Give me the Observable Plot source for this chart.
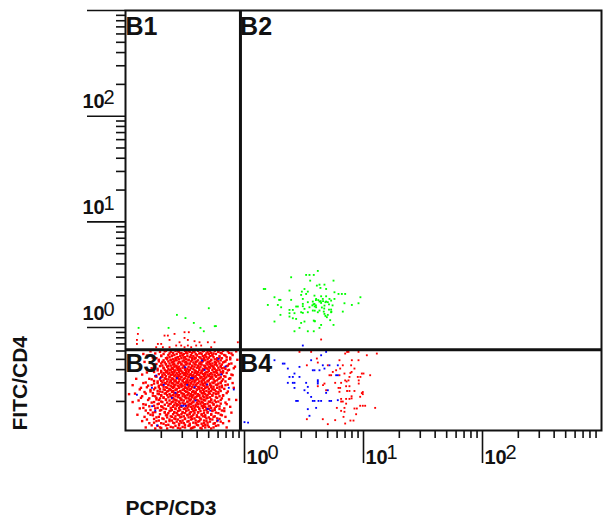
<!DOCTYPE html>
<html><head><meta charset="utf-8">
<script src="https://cdn.jsdelivr.net/npm/d3@7"></script>
<script src="https://cdn.jsdelivr.net/npm/@observablehq/plot@0.6"></script>
<style>html,body{margin:0;padding:0;background:#fff}svg{display:block}</style>
</head><body><div id="chart"></div>
<script>
// All scatter values are log10 of the fluorescence.
const greenX=[.616,.518,.546,.582,.392,.552,.748,.63,.672,.608,.638,.686,.174,.162,.378,.504,.482,.532,.756,.518,.476,.79,.818,.846,.974,.252,.588,.644,.686,.49,.602,.658,.714,.392,.302,.291,.532,.574,.63,.686,.728,.756,.49,.588,.644,.84,.958,.196,.28,.902,.308,.448,.434,.49,.546,.602,.672,.504,.574,.63,.728,.378,.406,.666,.728,.532,.476,.42,.378,.302,.49,.616,.672,.826,.692,.378,.406,.434,.582,.504,.252,.476,.644,.748,.462,.63,.42,.532,.582,.6,.62,.64,.66,.68,.7,.58,.6,.59,.71,.74,.59,.65,.67,.71,.73,.59,.72,.7,.68,.57,.59,-.89,-.638,-.568,-.496,-.426,-.37,-.342,-.3,-.25,-.24];
const greenY=[.536,.498,.498,.498,.476,.444,.444,.406,.406,.397,.375,.365,.365,.365,.35,.365,.34,.34,.334,.318,.309,.318,.318,.318,.287,.287,.302,.296,.296,.271,.271,.271,.271,.262,.262,.262,.24,.246,.246,.246,.255,.271,.224,.224,.233,.23,.23,.214,.214,.214,.192,.199,.199,.202,.192,.192,.208,.177,.161,.161,.17,.167,.167,.151,.145,.145,.145,.136,.136,.12,.139,.145,.129,.151,.098,.104,.088,.082,.066,.057,.057,.044,.025,.025,-.003,-.003,-.035,-.035,-.035,.26,.26,.25,.25,.24,.24,.22,.21,.2,.22,.21,.16,.19,.18,.17,.15,.06,.07,.12,.11,.21,.06,-.003,-.003,.12,.09,.044,-.003,-.035,.183,.013,.013];

const blueX=[-.742,-.708,-.778,-.904,-.678,-.568,-.498,-.45,-.435,-.482,-.42,-.314,-.58,-.61,-.412,-.53,-.515,-.495,-.776,-.75,-.734,-.31,-.288,-.224,0,-.356,-.218,-.16,-.336,-.196,-.132,-.09,
.686,.644,.56,.252,.322,.336,.462,.658,.714,.784,.364,.672,.574,.588,.63,.42,.378,.406,.462,.77,.784,.616,.616,.616,.364,.406,.42,.518,.42,.532,.504,.7,.686,.532,.56,.434,.448,.574,.588,.622,.644,.714,.728,.784,.602,.532,.546,.03,.49];
const blueY=[-.454,-.476,-.57,-.636,-.542,-.479,-.375,-.479,-.479,-.542,-.564,-.539,-.617,-.665,-.69,-.74,-.74,-.74,-.744,-.785,-.926,-.77,-.785,-.879,-.895,-.312,-.296,-.369,-.4,-.444,-.57,-.586,
-.23,-.262,-.309,-.309,-.341,-.341,-.372,-.357,-.357,-.357,-.388,-.388,-.404,-.404,-.404,-.435,-.467,-.467,-.467,-.451,-.451,-.498,-.514,-.53,-.523,-.523,-.523,-.523,-.571,-.561,-.593,-.593,-.618,-.618,-.656,-.694,-.694,-.694,-.694,-.694,-.694,-.694,-.694,-.687,-.76,-.772,-.835,-.9,-.17];

const redUpperX=[.462,.56,.846,.862,.874,.958,1.028,1.112,.608,.616,.798,.902,.958,.524,.7,.826,.896,.924,.804,.77,.742,.9,.89,.986,1,.84,.714,.728,1.056,.798,.882,.952,.974,.846,.874,.858,.96,.96,.762,.812,.672,.66,.616,.854,.882,.79,.804,.686,.862,.882,.924,.994,.994,.986,.9,.9,.798,.812,.854,.882,.972,.812,.826,.776,.854,.84,.924,.944,.972,.994,1.014,1.098,.812,.84,.938,.832,.524,.658,.762,.7,.846,.89,.916,.644,
-.896,-.904,-.904,-.854,-.672,-.644,-.588,-.504,-.468,-.63,-.504,-.476,-.42,-.378,-.308,-.252,-.728,-.7,-.546,-.574,-.532,-.476,-.406,-.364,-.28,-.056,-.742,-.686,-.63,-.504,-.448];
const redUpperY=[-.23,-.23,-.246,-.23,-.23,-.23,-.262,-.246,-.293,-.331,-.309,-.309,-.309,-.357,-.357,-.357,-.357,-.388,-.388,-.404,-.42,-.42,-.43,-.435,-.435,-.435,-.451,-.451,-.451,-.451,-.467,-.467,-.467,-.5,-.5,-.51,-.5,-.53,-.523,-.523,-.53,-.545,-.555,-.555,-.555,-.571,-.571,-.593,-.6,-.6,-.6,-.61,-.63,-.62,-.65,-.67,-.608,-.675,-.675,-.675,-.655,-.7,-.7,-.76,-.72,-.76,-.766,-.766,-.74,-.74,-.74,-.76,-.788,-.797,-.82,-.845,-.867,-.867,-.876,-.914,-.908,-.88,-.88,-.113,
-.06,-.117,-.155,-.123,-.076,-.076,-.06,-.044,-.044,-.117,-.098,-.117,-.129,-.139,-.139,-.139,-.155,-.155,-.139,-.17,-.17,-.17,-.17,-.17,-.186,-.139,-.186,-.186,-.186,-.186,-.186];

// The dense B3 population, listed row by row: one log10 y and the log10 x values read along it.
const redRowY=[-.22,-.23,-.24,-.25,-.26,-.27,-.28,-.29,-.30,-.31,-.32,-.33,-.34,-.35,-.36,-.37,-.38,-.39,-.40,-.41,-.42,-.43,-.44,-.45,-.46,-.47,-.48,-.49,-.50,-.51,-.52,-.53,-.54,-.55,-.56,-.57,-.58,-.59,-.60,-.61,-.62,-.63,-.64,-.65,-.66,-.67,-.68,-.69,-.70,-.71,-.72,-.73,-.74,-.75,-.76,-.77,-.78,-.79,-.80,-.81,-.82,-.83,-.84,-.85,-.86,-.87,-.88,-.89,-.90,-.91,-.92,-.93,-.94,-.95];
const redRowX=[
[-.66,-.58,-.5,-.47,-.39,-.34,-.25,-.18],
[-.71,-.62,-.55,-.46,-.42,-.31,-.22],
[-.6,-.53,-.49,-.44,-.37,-.28,-.2,-.13],
[-.85,-.68,-.57,-.51,-.41,-.36,-.3,-.24],
[-.64,-.59,-.52,-.45,-.4,-.33,-.27,-.17,-.1],
[-.7,-.61,-.54,-.48,-.43,-.35,-.29,-.21],
[-.63,-.56,-.5,-.46,-.38,-.32,-.26,-.15],
[-.74,-.66,-.58,-.53,-.44,-.41,-.34,-.23,-.19],
[-.65,-.6,-.55,-.49,-.42,-.36,-.31,-.25,-.12],
[-.68,-.62,-.57,-.51,-.47,-.39,-.33,-.28,-.2],
[-.72,-.64,-.59,-.52,-.45,-.4,-.35,-.29,-.22,-.16],
[-.67,-.61,-.54,-.5,-.43,-.37,-.3,-.24,-.18],
[-.7,-.63,-.56,-.48,-.46,-.38,-.32,-.27,-.21,-.11],
[-.66,-.6,-.53,-.49,-.41,-.36,-.31,-.25,-.19],
[-.69,-.62,-.58,-.51,-.44,-.39,-.34,-.28,-.23,-.14],
[-.65,-.59,-.55,-.47,-.42,-.37,-.3,-.26,-.2,-.08],
[-.68,-.61,-.57,-.52,-.45,-.4,-.33,-.29,-.22,-.17],
[-.73,-.64,-.6,-.54,-.48,-.43,-.35,-.31,-.25,-.16],
[-.67,-.62,-.56,-.5,-.46,-.38,-.34,-.27,-.21,-.13],
[-.7,-.65,-.59,-.53,-.49,-.41,-.36,-.3,-.24,-.18],
[-.76,-.66,-.61,-.55,-.47,-.44,-.39,-.32,-.26,-.2],
[-.68,-.63,-.57,-.52,-.5,-.42,-.37,-.33,-.28,-.23,-.15],
[-.72,-.64,-.6,-.54,-.48,-.45,-.4,-.35,-.29,-.19],
[-.69,-.62,-.58,-.51,-.46,-.43,-.38,-.31,-.25,-.22,-.1],
[-.75,-.66,-.59,-.55,-.49,-.44,-.41,-.34,-.3,-.24,-.17],
[-.7,-.63,-.56,-.53,-.47,-.42,-.36,-.32,-.27,-.2],
[-.67,-.61,-.57,-.5,-.45,-.4,-.37,-.33,-.28,-.21,-.12],
[-.78,-.71,-.64,-.6,-.54,-.48,-.43,-.39,-.35,-.26,-.18],
[-.68,-.62,-.58,-.52,-.46,-.41,-.34,-.3,-.23],
[-.73,-.65,-.59,-.55,-.49,-.44,-.38,-.31,-.25,-.16],
[-.83,-.69,-.63,-.57,-.51,-.47,-.42,-.36,-.33,-.27,-.2],
[-.76,-.66,-.6,-.53,-.48,-.45,-.4,-.35,-.29,-.22],
[-.7,-.64,-.58,-.54,-.5,-.43,-.37,-.32,-.24,-.14],
[-.81,-.72,-.62,-.56,-.52,-.46,-.41,-.34,-.28,-.19],
[-.68,-.61,-.59,-.53,-.47,-.44,-.39,-.31,-.26,-.21],
[-.87,-.75,-.65,-.6,-.55,-.49,-.42,-.36,-.33,-.23,-.09],
[-.71,-.63,-.57,-.51,-.48,-.45,-.38,-.3,-.27,-.17],
[-.79,-.67,-.62,-.58,-.52,-.46,-.4,-.35,-.25],
[-.73,-.64,-.6,-.54,-.5,-.43,-.37,-.32,-.28,-.2],
[-.84,-.69,-.61,-.56,-.49,-.44,-.41,-.34,-.22],
[-.77,-.66,-.59,-.53,-.47,-.42,-.36,-.3,-.26,-.15],
[-.97,-.72,-.63,-.57,-.51,-.45,-.39,-.33,-.24],
[-.7,-.65,-.6,-.55,-.48,-.43,-.38,-.31,-.27,-.18],
[-.86,-.75,-.62,-.58,-.52,-.46,-.4,-.35,-.21],
[-.68,-.64,-.56,-.5,-.44,-.41,-.34,-.29,-.24],
[-.8,-.71,-.61,-.54,-.49,-.47,-.37,-.32,-.19],
[-.74,-.66,-.59,-.53,-.45,-.42,-.36,-.28,-.13],
[-.89,-.63,-.57,-.51,-.46,-.39,-.33,-.25],
[-.7,-.6,-.55,-.48,-.43,-.38,-.3,-.22],
[-.78,-.65,-.58,-.52,-.44,-.4,-.35,-.27,-.16],
[-.72,-.62,-.54,-.5,-.46,-.37,-.31,-.2],
[-.83,-.67,-.59,-.56,-.47,-.41,-.34,-.26],
[-.76,-.64,-.57,-.49,-.43,-.36,-.29,-.23],
[-.69,-.6,-.53,-.45,-.39,-.33,-.24,-.12],
[-.85,-.73,-.62,-.55,-.48,-.42,-.35,-.28],
[-.66,-.58,-.51,-.44,-.38,-.3,-.21],
[-.79,-.7,-.61,-.54,-.47,-.41,-.32,-.25],
[-.63,-.56,-.49,-.43,-.37,-.27,-.17],
[-.75,-.67,-.59,-.52,-.45,-.39,-.31],
[-.81,-.64,-.57,-.5,-.42,-.34,-.22],
[-.71,-.6,-.53,-.46,-.36,-.28],
[-.77,-.66,-.55,-.48,-.4,-.33,-.19],
[-.62,-.58,-.51,-.44,-.35,-.25],
[-.74,-.65,-.54,-.47,-.38,-.3],
[-.69,-.59,-.5,-.42,-.32,-.23],
[-.82,-.63,-.56,-.45,-.37,-.27],
[-.72,-.61,-.52,-.41,-.34],
[-.66,-.57,-.48,-.39,-.29,-.2],
[-.76,-.6,-.53,-.43,-.31],
[-.68,-.55,-.46,-.36,-.26],
[-.64,-.5,-.4,-.33],
[-.73,-.58,-.47,-.35,-.24],
[-.62,-.52,-.42,-.3],
[-.7,-.56,-.44,-.37]
];
// Second reading of the same population, between the rows above, where the cloud is densest and along its edges.
const redFillY=[-.225,-.245,-.265,-.285,-.305,-.325,-.345,-.365,-.385,-.405,-.425,-.445,-.465,-.485,-.505,-.525,-.545,-.565,-.585,-.605,-.625,-.645,-.665,-.685,-.705,-.725,-.745,-.765,-.785,-.805,-.825,-.845,-.865,-.885,-.905,-.925,-.945,-.955];
const redFillX=[
[-.79,-.67,-.56,-.49,-.43,-.35,-.29,-.22,-.14,-.07],
[-.75,-.63,-.54,-.48,-.38,-.32,-.26,-.19,-.11],
[-.82,-.7,-.61,-.52,-.45,-.4,-.33,-.27,-.16],
[-.77,-.65,-.57,-.51,-.42,-.37,-.3,-.21,-.12],
[-.72,-.62,-.58,-.47,-.44,-.34,-.28,-.23,-.15,-.06],
[-.84,-.69,-.6,-.55,-.49,-.41,-.36,-.31,-.25,-.17],
[-.74,-.66,-.59,-.53,-.46,-.42,-.37,-.29,-.24,-.13],
[-.71,-.64,-.57,-.51,-.44,-.39,-.33,-.27,-.2,-.15],
[-.78,-.68,-.61,-.56,-.5,-.45,-.38,-.32,-.26,-.19,-.09],
[-.73,-.63,-.58,-.54,-.47,-.42,-.35,-.3,-.23,-.14],
[-.82,-.7,-.65,-.59,-.52,-.49,-.41,-.36,-.31,-.25,-.18],
[-.86,-.67,-.61,-.56,-.5,-.46,-.39,-.33,-.27,-.21,-.11],
[-.74,-.69,-.63,-.57,-.53,-.47,-.43,-.37,-.28,-.24,-.16],
[-.91,-.8,-.66,-.6,-.55,-.51,-.44,-.4,-.34,-.29,-.22,-.13],
[-.76,-.7,-.62,-.58,-.52,-.48,-.42,-.36,-.31,-.25,-.19],
[-.85,-.73,-.67,-.61,-.56,-.49,-.45,-.39,-.33,-.26,-.2,-.1],
[-.94,-.78,-.69,-.64,-.59,-.53,-.47,-.41,-.35,-.29,-.23,-.16],
[-.82,-.72,-.66,-.6,-.55,-.5,-.44,-.38,-.32,-.28,-.19],
[-.88,-.76,-.68,-.63,-.57,-.51,-.46,-.4,-.34,-.26,-.21],
[-.79,-.71,-.65,-.6,-.54,-.48,-.43,-.37,-.3,-.24,-.14],
[-.92,-.83,-.73,-.67,-.58,-.52,-.47,-.41,-.35,-.29,-.22],
[-.77,-.7,-.62,-.56,-.5,-.44,-.38,-.32,-.27,-.18],
[-.87,-.74,-.68,-.6,-.54,-.49,-.42,-.37,-.31,-.23],
[-.81,-.72,-.66,-.58,-.53,-.46,-.4,-.34,-.28,-.2,-.07],
[-.94,-.76,-.69,-.61,-.55,-.48,-.43,-.36,-.29,-.24],
[-.85,-.73,-.63,-.57,-.51,-.45,-.39,-.33,-.26,-.15],
[-.8,-.7,-.6,-.54,-.47,-.41,-.35,-.3,-.21],
[-.88,-.75,-.68,-.58,-.5,-.44,-.38,-.32,-.25,-.17],
[-.83,-.71,-.62,-.55,-.49,-.42,-.34,-.27,-.19],
[-.77,-.67,-.59,-.52,-.46,-.39,-.31,-.24,-.11],
[-.9,-.79,-.65,-.56,-.48,-.43,-.36,-.28,-.2],
[-.84,-.72,-.61,-.53,-.45,-.4,-.33,-.26,-.16],
[-.76,-.68,-.58,-.5,-.44,-.37,-.29,-.21],
[-.86,-.74,-.63,-.54,-.47,-.38,-.32,-.23,-.13],
[-.8,-.7,-.59,-.51,-.41,-.34,-.25,-.18],
[-.78,-.66,-.55,-.46,-.39,-.31,-.22],
[-.83,-.71,-.6,-.5,-.43,-.33,-.26,-.15],
[-.75,-.65,-.54,-.45,-.36,-.28]
];

const decadeTicks=[1,10,100];
const yDecadeTicks=[1,10,100,1000];
const decadeExponents=["0","1","2"];
const minorSteps=[2,3,4,5,6,7,8,9];
const minorX=[.1,1,10,100].flatMap(b=>minorSteps.map(s=>s*b));
const minorY=[.1,1,10,100].flatMap(b=>minorSteps.map(s=>s*b)).filter(v=>v>=.11);
const gateXValue=-.034, gateYValue=-.21;
const quadrants=["B1","B2","B3","B4"];
const quadrantX=[-1,-.037,-1,-.037];
const quadrantY=[2.77,2.77,-.42,-.42];

const pts=(xs,ys)=>xs.map((d,i)=>({x:10**d,y:10**ys[i]}));
const rows=(ys,xs)=>ys.flatMap((y,i)=>xs[i].map(x=>({x:10**x,y:10**y})));
const blank=()=>"";
const lab={fontFamily:"Liberation Sans, Arial, sans-serif",fill:"#111"};
const sq={symbol:"square",r:1.05,x:"x",y:"y"};
const sqDense={symbol:"square",r:1.35,x:"x",y:"y"};

const plot=Plot.plot({
  width:603,height:519,marginLeft:125,marginRight:2,marginTop:10,marginBottom:89,
  style:{background:"#fff",overflow:"visible"},
  x:{type:"log",domain:[.1,1000],label:null},
  y:{type:"log",domain:[10**-.974,1000],label:null},
  marks:[
    Plot.dot(rows(redRowY,redRowX),{...sqDense,fill:"#ff0000"}),
    Plot.dot(rows(redFillY,redFillX),{...sqDense,fill:"#ff0000"}),
    Plot.dot(pts(redUpperX,redUpperY),{...sq,fill:"#ff0000"}),
    Plot.dot(pts(greenX,greenY),{...sq,fill:"#00ff00"}),
    Plot.dot(pts(blueX,blueY),{...sq,fill:"#0000ff"}),
    Plot.frame({stroke:"#111",strokeWidth:2}),
    Plot.ruleX([10**gateXValue],{stroke:"#111",strokeWidth:3}),
    Plot.ruleY([10**gateYValue],{stroke:"#111",strokeWidth:3}),
    Plot.axisX({ticks:minorX,tickSize:8,tickFormat:blank,strokeWidth:1.6,stroke:"#111",label:null}),
    Plot.axisX({ticks:decadeTicks,tickSize:33,tickFormat:blank,strokeWidth:1.6,stroke:"#111",label:null}),
    Plot.axisY({ticks:minorY,tickSize:9,tickFormat:blank,strokeWidth:1.6,stroke:"#111",label:null}),
    Plot.axisY({ticks:yDecadeTicks,tickSize:38,tickFormat:blank,strokeWidth:1.6,stroke:"#111",label:null}),
    Plot.text(decadeTicks,{x:d=>d,frameAnchor:"bottom",text:()=>"10",...lab,fontSize:20,fontWeight:"bold",textAnchor:"start",lineAnchor:"bottom",dx:2,dy:33}),
    Plot.text(decadeTicks,{x:d=>d,frameAnchor:"bottom",text:(d,i)=>decadeExponents[i],...lab,fontSize:20,textAnchor:"start",lineAnchor:"bottom",dx:23,dy:28}),
    Plot.text(decadeTicks,{y:d=>d,frameAnchor:"left",text:()=>"10",...lab,fontSize:20,fontWeight:"bold",textAnchor:"start",lineAnchor:"bottom",dx:-43,dy:-8}),
    Plot.text(decadeTicks,{y:d=>d,frameAnchor:"left",text:(d,i)=>decadeExponents[i],...lab,fontSize:20,textAnchor:"start",lineAnchor:"bottom",dx:-22,dy:-12}),
    Plot.text(quadrants,{x:(d,i)=>10**quadrantX[i],y:(d,i)=>10**quadrantY[i],text:d=>d,...lab,fontSize:25,textAnchor:"start",lineAnchor:"bottom",fontWeight:"bold"}),
    Plot.text(["FITC/CD4"],{frameAnchor:"bottom-left",text:d=>d,...lab,fontSize:21,fontWeight:"bold",rotate:-90,textAnchor:"start",lineAnchor:"bottom",dx:-99}),
    Plot.text(["PCP/CD3"],{frameAnchor:"bottom-left",text:d=>d,...lab,fontSize:21,fontWeight:"bold",textAnchor:"start",lineAnchor:"bottom",dy:84})
  ]
});
document.getElementById("chart").append(plot);
</script></body></html>
